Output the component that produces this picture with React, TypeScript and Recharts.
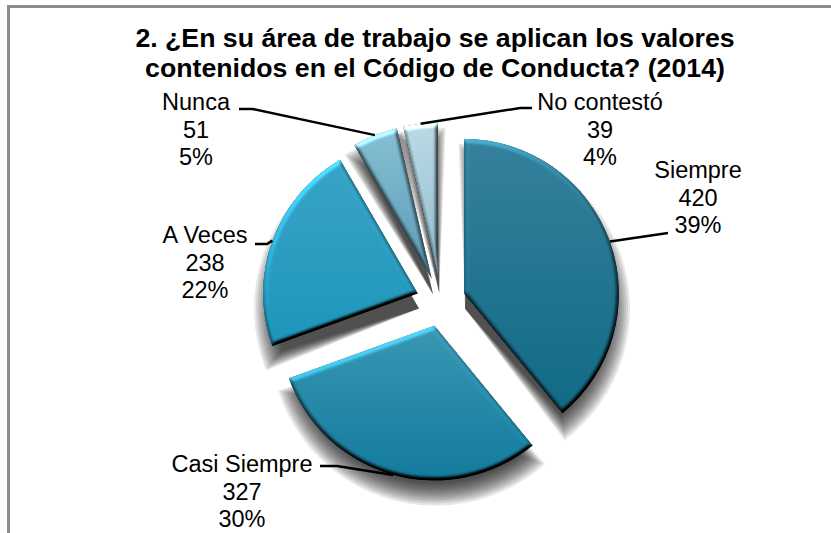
import { PieChart, Pie, Cell, Sector } from 'recharts';

const categories = ['Siempre', 'Casi Siempre', 'A Veces', 'Nunca', 'No contestó'];
const counts = [420, 327, 238, 51, 39];
const titleLines = [
    '2. ¿En su área de trabajo se aplican los valores',
    'contenidos en el Código de Conducta? (2014)',
];

const sliceGradients = [
    ['#35819b', '#116a87'],
    ['#3a98b4', '#137b9e'],
    ['#38a5c7', '#1e96bc'],
    ['#86c0d4', '#5a9cb6'],
    ['#bcdbe7', '#8fbccd'],
];

// posicion del texto y codo de cada linea guia
const labelLayout = [
    { x: 698, y: 178, elbow: [[668, 233]] },
    { x: 242, y: 472, elbow: [[320, 466], [337, 466]] },
    { x: 205, y: 243, elbow: [[255, 244], [267, 244]] },
    { x: 196, y: 110, elbow: [[239, 109], [253, 109]] },
    { x: 600, y: 110, elbow: [[532, 108], [520, 108]] },
];

// cuanto crece cada capa de la sombra respecto a la rebanada, en px
const shadowSpread = [10, 8, 6, 4, 2, 0, -2, -4, -6, -8, -10, -12];

const FONT = '"Liberation Sans", Arial, sans-serif';
const EXPLODE = 24.5;
const RAD = Math.PI / 180;

const chartData = categories.map((name, i) => ({ name, value: counts[i] }));

// cada rebanada se separa del centro siguiendo su angulo medio
const ExplodedSlice = (props: any) => {
    const cx = props.cx + EXPLODE * Math.cos(-props.midAngle * RAD);
    const cy = props.cy + EXPLODE * Math.sin(-props.midAngle * RAD);
    return <Sector {...props} cx={cx} cy={cy} filter="url(#bevel)" />;
};

// la sombra va en su propia capa, debajo de todas las rebanadas
const SliceShadow = (props: any) => {
    const cx = props.cx + EXPLODE * Math.cos(-props.midAngle * RAD);
    const cy = props.cy + EXPLODE * Math.sin(-props.midAngle * RAD);
    return (
        <g>
            {shadowSpread.map((k) => {
                const widen = (0.6 * k / props.outerRadius) / RAD;
                return (
                    <Sector
                        key={k}
                        cx={cx + 1}
                        cy={cy + 15}
                        innerRadius={0}
                        outerRadius={props.outerRadius + k}
                        startAngle={props.startAngle + widen}
                        endAngle={props.endAngle - widen}
                        fill="#000"
                        fillOpacity={0.09}
                        stroke="none"
                    />
                );
            })}
        </g>
    );
};

const SliceLabel = (props: any) => {
    const { index, value, percent } = props;
    const spot = labelLayout[index];
    const lines = [categories[index], String(value), `${Math.round(percent * 100)}%`];
    return (
        <text x={spot.x} y={spot.y} textAnchor="middle" fontFamily={FONT} fontSize={23.5} fill="#000">
            {lines.map((t, i) => (
                <tspan key={t} x={spot.x} dy={i === 0 ? 0 : 27.5}>{t}</tspan>
            ))}
        </text>
    );
};

const SliceLine = (props: any) => {
    const { index, cx, cy, midAngle, outerRadius } = props;
    const r = outerRadius + EXPLODE;
    const sx = cx + r * Math.cos(-midAngle * RAD);
    const sy = cy + r * Math.sin(-midAngle * RAD);
    const pts = [...labelLayout[index].elbow, [sx, sy]].map((p) => p.join(',')).join(' ');
    return <polyline points={pts} fill="none" stroke="#000" strokeWidth={2.5} />;
};

const App = () => {
    return (
        <div style={{ position: 'absolute', left: 0, top: 0, width: 831, height: 533, background: '#fff', overflow: 'hidden' }}>
            {/* el borde solo se ve arriba y a la izquierda */}
            <div style={{ position: 'absolute', left: 7, top: 5, right: 0, bottom: 0, borderTop: '3px solid #8c8c8c', borderLeft: '3px solid #8c8c8c' }} />
            <PieChart width={831} height={533} margin={{ top: 0, right: 0, bottom: 0, left: 0 }} style={{ position: 'absolute', left: 0, top: 0 }}>
                <defs>
                    {sliceGradients.map((g, i) => (
                        <linearGradient key={i} id={`slice${i}`} x1="0" y1="0" x2="0" y2="1">
                            <stop offset="0%" stopColor={g[0]} />
                            <stop offset="100%" stopColor={g[1]} />
                        </linearGradient>
                    ))}
                    <filter id="bevel" x="-10%" y="-10%" width="120%" height="120%" colorInterpolationFilters="sRGB">
                        <feGaussianBlur in="SourceAlpha" stdDeviation="2.2" result="soft" />
                        <feDiffuseLighting in="soft" surfaceScale="4" diffuseConstant="0.707" lightingColor="#fff" result="diff">
                            <feDistantLight azimuth="250" elevation="45" />
                        </feDiffuseLighting>
                        <feComposite in="SourceGraphic" in2="diff" operator="arithmetic" k1="2" k2="0" k3="0" k4="0" result="lit" />
                        <feComposite in="lit" in2="SourceAlpha" operator="in" />
                    </filter>
                </defs>
                {titleLines.map((t, i) => (
                    <text key={t} x={435} y={47 + i * 30} textAnchor="middle" fontFamily={FONT} fontWeight="bold" fontSize={26.7} fill="#000">
                        {t}
                    </text>
                ))}
                <Pie
                    data={chartData}
                    dataKey="value"
                    cx={441}
                    cy={302}
                    outerRadius={155}
                    startAngle={90}
                    endAngle={-270}
                    stroke="none"
                    shape={SliceShadow}
                    isAnimationActive={false}
                />
                <Pie
                    data={chartData}
                    dataKey="value"
                    nameKey="name"
                    cx={441}
                    cy={302}
                    outerRadius={155}
                    startAngle={90}
                    endAngle={-270}
                    stroke="none"
                    paddingAngle={0}
                    shape={ExplodedSlice}
                    label={SliceLabel}
                    labelLine={SliceLine}
                    isAnimationActive={false}
                >
                    {chartData.map((d, i) => (
                        <Cell key={d.name} fill={`url(#slice${i})`} />
                    ))}
                </Pie>
            </PieChart>
        </div>
    );
};

export default App;
